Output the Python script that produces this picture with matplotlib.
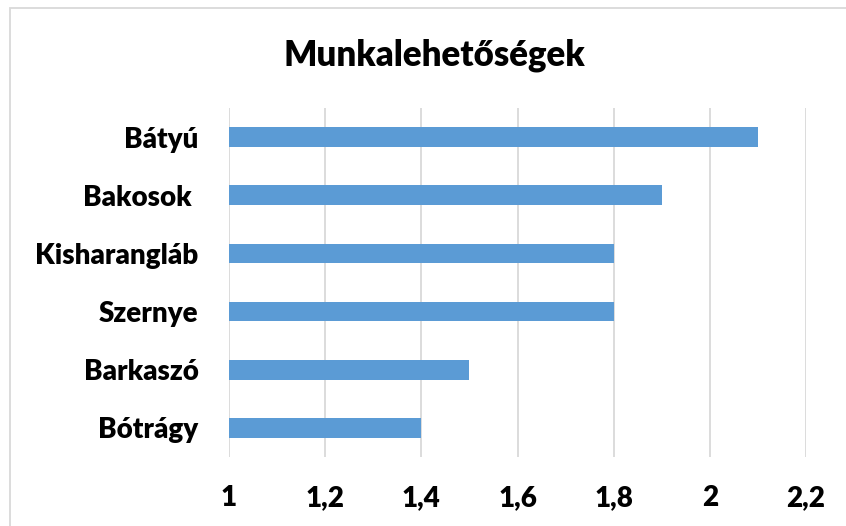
import matplotlib.pyplot as plt
from matplotlib.ticker import FuncFormatter, MultipleLocator
from matplotlib.patches import Rectangle

# Data (bottom to top as drawn)
places = ["Bótrágy", "Barkaszó", "Szernye", "Kisharangláb", "Bakosok ", "Bátyú"]
values = [1.4, 1.5, 1.8, 1.8, 1.9, 2.1]
base = 1.0

plt.rcParams["font.family"] = ["Lato", "DejaVu Sans"]

fig = plt.figure(figsize=(8.46, 5.26), dpi=100)
ax = fig.add_axes([229 / 846, 1 - 457 / 526, (806 - 229) / 846, (457 - 108) / 526])

ax.barh(range(len(places)), [v - base for v in values], left=base,
        height=0.34, color="#5b9bd5", zorder=3)

ax.set_xlim(1, 2.2)
ax.set_ylim(-0.5, len(places) - 0.5)
ax.xaxis.set_major_locator(MultipleLocator(0.2))
ax.xaxis.set_major_formatter(FuncFormatter(lambda v, p: f"{v:.1f}".rstrip("0").rstrip(".").replace(".", ",")))
ax.set_yticks(range(len(places)))
ax.set_yticklabels(places)

ax.grid(axis="x", color="#d9d9d9", linewidth=1.3, zorder=0)
for s in ax.spines.values():
    s.set_visible(False)
ax.tick_params(axis="both", length=0, labelsize=20)
ax.tick_params(axis="x", pad=20)
ax.tick_params(axis="y", pad=22)
for lbl in ax.get_xticklabels() + ax.get_yticklabels():
    lbl.set_fontweight("heavy")

fig.text(434 / 846, 1 - 55 / 526, "Munkalehetőségek", ha="center", va="center",
         fontsize=25, fontweight="heavy")

# chart border
fig.patches.append(Rectangle((10 / 846, -0.01), 1.0, 1 - 8 / 526 + 0.01,
                             transform=fig.transFigure, fill=False,
                             edgecolor="#d9d9d9", linewidth=1.3))

fig.savefig("out.png", dpi=100)
